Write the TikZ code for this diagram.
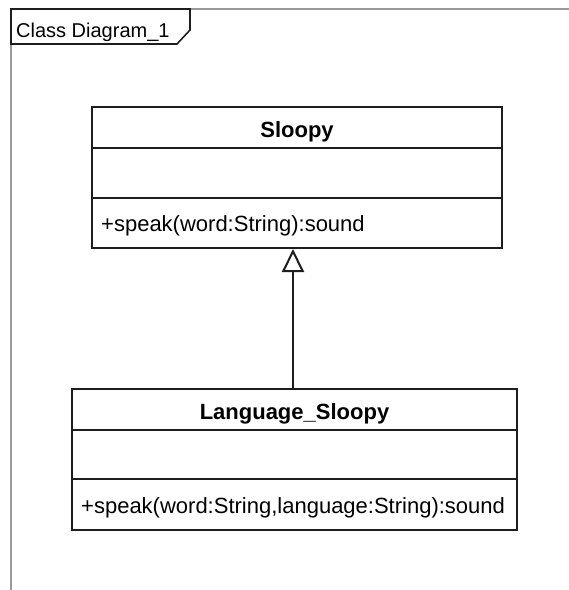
\documentclass[tikz,border=0pt]{standalone}
\usepackage{fontspec}
\setmainfont{Liberation Sans}
\usetikzlibrary{arrows.meta}
\definecolor{umlline}{HTML}{1E1E1E}
\definecolor{frameline}{HTML}{9A9A9A}
\tikzset{
  classbox/.style={draw=umlline, line width=2pt, fill=white, inner sep=0pt},
  divider/.style={draw=umlline, line width=2pt},
  classname/.style={font=\fontsize{22}{26}\selectfont\bfseries, inner sep=0pt, anchor=base},
  member/.style={font=\fontsize{22}{26}\selectfont, inner sep=0pt, anchor=base west},
  inherit/.style={draw=umlline, line width=2pt,
    -{Triangle[open, length=23pt, width=22pt, line width=2pt]}},
}
\begin{document}
\begin{tikzpicture}[x=1pt, y=-1pt]
\useasboundingbox (0,0) rectangle (569,590);
\fill[white] (0,0) rectangle (569,590);

% diagram frame
\draw[frameline, line width=2pt] (569,9) -- (11,9) -- (11,590);
\draw[umlline, line width=1.6pt, fill=white]
  (11,9) -- (190,9) -- (190,30) -- (177,44) -- (11,44) -- cycle;
\node[font=\fontsize{20}{24}\selectfont, inner sep=0pt, anchor=base west]
  (frametitle) at (16,37) {Class Diagram\_1};

% class Sloopy
\node[classbox, minimum width=410pt, minimum height=141pt] (sloopy) at (297,177.5) {};
\draw[divider] (92,148) -- (502,148);
\draw[divider] (92,198) -- (502,198);
\node[classname] (sloopyname) at (297,137) {Sloopy};
\node[member] (sloopyop) at (101,231) {+speak(word:String):sound};

% class Language_Sloopy
\node[classbox, minimum width=445pt, minimum height=141pt] (lang) at (294.5,459.5) {};
\draw[divider] (72,430) -- (517,430);
\draw[divider] (72,479) -- (517,479);
\node[classname] (langname) at (294.5,419) {Language\_Sloopy};
\node[member] (langop) at (81,513) {+speak(word:String,language:String):sound};

% generalization
\coordinate (gx) at (293,0);
\draw[inherit] (lang.north -| gx) -- (sloopy.south -| gx);
\end{tikzpicture}
\end{document}
